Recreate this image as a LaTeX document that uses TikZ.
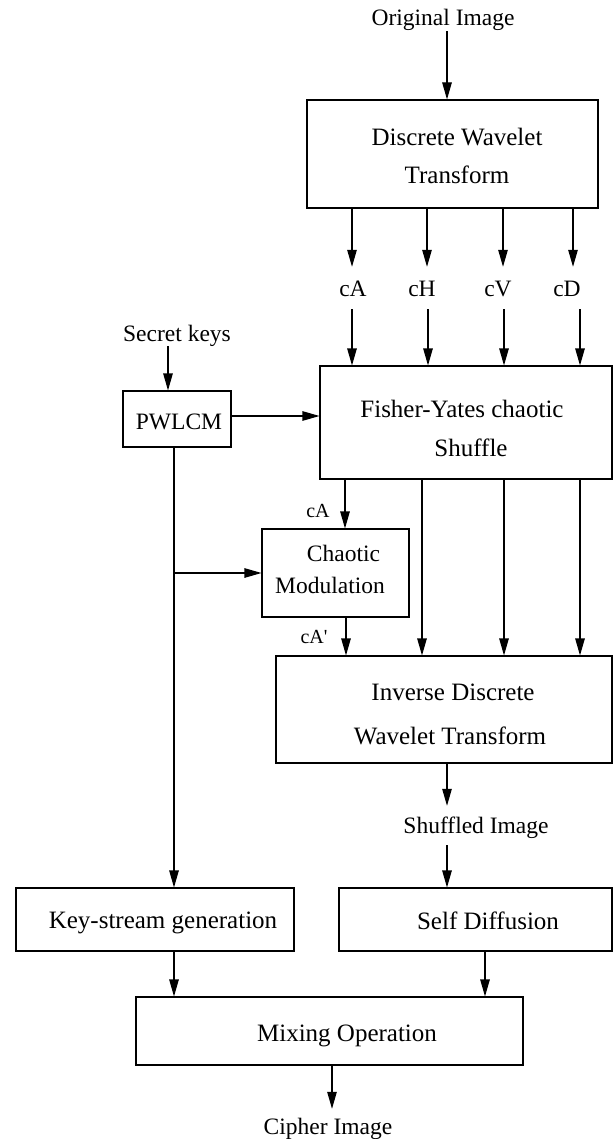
\documentclass[tikz,border=0pt]{standalone}
\usepackage{fontspec}
\setmainfont{Liberation Serif}
\usetikzlibrary{arrows.meta}
\newcommand{\txtshift}[3]{\raisebox{#2}[\height][\depth]{\hspace*{#1}#3}}
\begin{document}
\begin{tikzpicture}[x=1pt,y=-1pt,
  box/.style={draw, line width=1.1pt, inner sep=0pt, align=center, font=\fontsize{25}{38}\selectfont},
  sbox/.style={box, font=\fontsize{23.5}{32}\selectfont},
  lab/.style={inner sep=0pt, text height=17pt, text depth=5pt, anchor=base, font=\fontsize{23.5}{28}\selectfont},
  slab/.style={inner sep=0pt, anchor=base, font=\fontsize{20}{24}\selectfont},
  arr/.style={line width=1.1pt, -{Triangle[length=17pt,width=9.5pt]}},
  ln/.style={line width=1.1pt}]
\useasboundingbox (0,0) rectangle (613,1139);

% boxes
\node[box, minimum width=291pt, minimum height=108pt] (dwt) at (452.5,154)
  {\txtshift{9pt}{-2pt}{Discrete Wavelet}\\\txtshift{9pt}{-2pt}{Transform}};
\node[box, minimum width=292pt, minimum height=113pt, font=\fontsize{25}{39}\selectfont] (fisher) at (466,422.5)
  {\txtshift{-8pt}{-5.5pt}{Fisher-Yates chaotic}\\\txtshift{10pt}{-5.5pt}{Shuffle}};
\node[sbox, minimum width=108pt, minimum height=56pt] (pwlcm) at (177,419) {\txtshift{4pt}{-3pt}{PWLCM}};
\node[sbox, minimum width=147pt, minimum height=88pt] (chaotic) at (335.5,573)
  {\txtshift{16pt}{4pt}{Chaotic}\\\txtshift{-11pt}{4pt}{Modulation}};
\node[box, minimum width=336pt, minimum height=107pt, font=\fontsize{25}{44}\selectfont] (idwt) at (444,709.5)
  {\txtshift{18pt}{-4.5pt}{Inverse Discrete}\\\txtshift{12pt}{-4.5pt}{Wavelet Transform}};
\node[box, minimum width=278pt, minimum height=63pt] (key) at (155,919.5) {\txtshift{16pt}{-3pt}{Key-stream generation}};
\node[box, minimum width=273pt, minimum height=63pt] (self) at (475.5,919.5) {\txtshift{25pt}{-1pt}{Self Diffusion}};
\node[box, minimum width=387pt, minimum height=68pt] (mix) at (329.5,1031) {\txtshift{35pt}{-5pt}{Mixing Operation}};

% labels
\node[lab] (orig) at (443,26) {Original Image};
\node[lab] (cA) at (353,297) {cA};
\node[lab] (cH) at (422,297) {cH};
\node[lab] (cV) at (498,297) {cV};
\node[lab] (cD) at (567,297) {cD};
\node[lab] (secret) at (177,341) {Secret keys};
\node[slab] (cAs) at (318,517) {cA};
\node[slab] (cAp) at (314,643) {cA\textquotesingle};
\node[lab] (shuf) at (476,833) {Shuffled Image};
\node[lab] (cipher) at (328,1134) {Cipher Image};

% connectors
\draw[arr] (447,0 |- orig.south) -- (447,0 |- dwt.north);
\draw[arr, shorten >=13pt] (352,0 |- dwt.south) -- (352,0 |- cA.north);
\draw[arr, shorten >=13pt] (427,0 |- dwt.south) -- (427,0 |- cH.north);
\draw[arr, shorten >=13pt] (503,0 |- dwt.south) -- (503,0 |- cV.north);
\draw[arr, shorten >=13pt] (573,0 |- dwt.south) -- (573,0 |- cD.north);
\draw[arr, shorten <=7pt] (352,0 |- cA.south) -- (352,0 |- fisher.north);
\draw[arr, shorten <=7pt] (428,0 |- cH.south) -- (428,0 |- fisher.north);
\draw[arr, shorten <=7pt] (504,0 |- cV.south) -- (504,0 |- fisher.north);
\draw[arr, shorten <=7pt] (580,0 |- cD.south) -- (580,0 |- fisher.north);
\draw[arr] (168,0 |- secret.south) -- (168,0 |- pwlcm.north);
\draw[arr] (pwlcm.east |- 0,416) -- (fisher.west |- 0,416);
\draw[arr] (345,0 |- fisher.south) -- (345,0 |- chaotic.north);
\draw[arr] (174,0 |- pwlcm.south) -- (174,0 |- key.north);
\draw[arr] (174,0 |- chaotic.west) -- (chaotic.west);
\draw[arr] (346,0 |- chaotic.south) -- (346,0 |- idwt.north);
\draw[arr] (422,0 |- fisher.south) -- (422,0 |- idwt.north);
\draw[arr] (504,0 |- fisher.south) -- (504,0 |- idwt.north);
\draw[arr] (580,0 |- fisher.south) -- (580,0 |- idwt.north);
\draw[arr, shorten >=10pt] (447,0 |- idwt.south) -- (447,0 |- shuf.north);
\draw[arr, shorten <=7pt] (447,0 |- shuf.south) -- (447,0 |- self.north);
\draw[arr] (174,0 |- key.south) -- (174,0 |- mix.north);
\draw[arr] (485,0 |- self.south) -- (485,0 |- mix.north);
\draw[arr, shorten >=8pt] (332,0 |- mix.south) -- (332,0 |- cipher.north);
\end{tikzpicture}
\end{document}
